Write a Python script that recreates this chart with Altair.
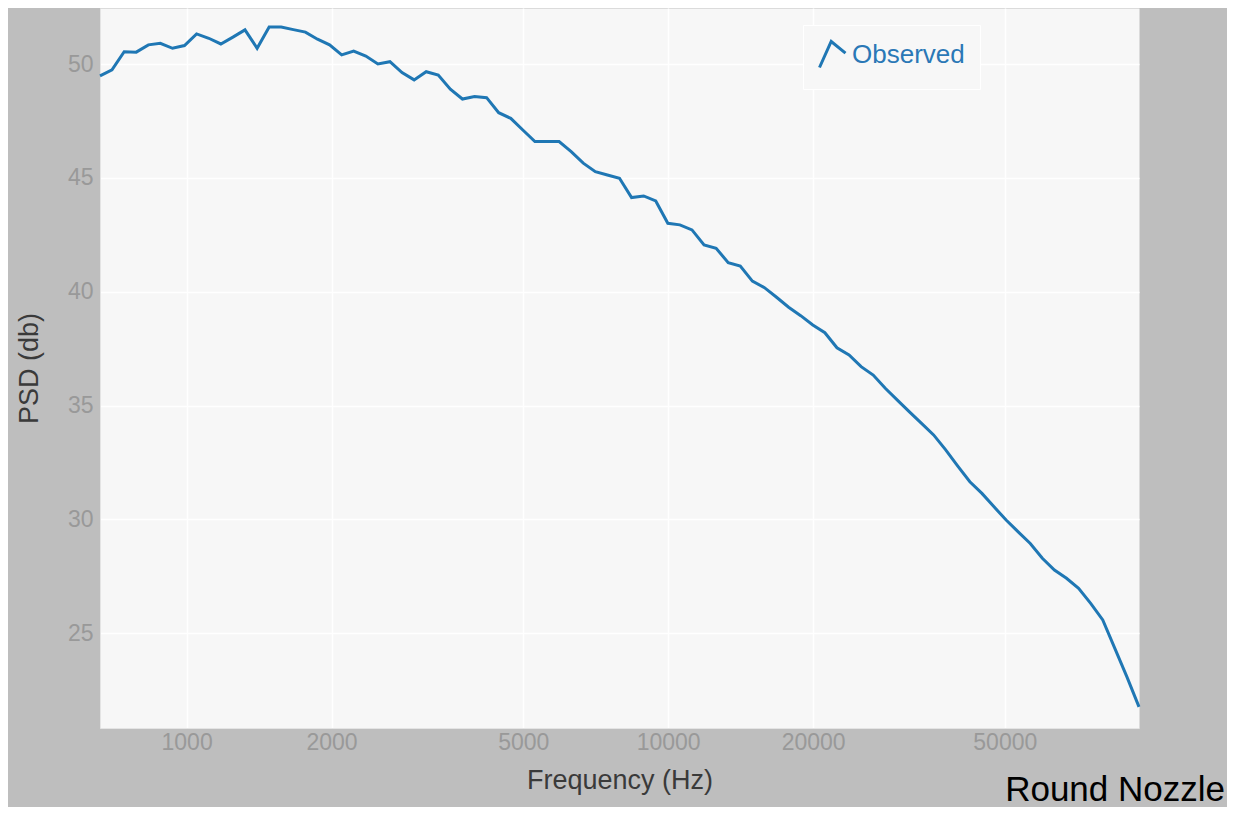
import altair as alt
import pandas as pd

# 1/12-octave band centre frequencies (Hz)
freq = [661, 700, 742, 786, 833, 882, 935, 990, 1049, 1112, 1178, 1248, 1322, 1401,
        1484, 1572, 1666, 1765, 1870, 1981, 2099, 2223, 2356, 2496, 2644, 2801, 2968,
        3144, 3331, 3529, 3739, 3962, 4197, 4447, 4711, 4991, 5288, 5602, 5936, 6289,
        6663, 7059, 7478, 7923, 8394, 8893, 9422, 9983, 10576, 11205, 11871, 12577,
        13325, 14117, 14957, 15846, 16788, 17787, 18844, 19965, 21152, 22410, 23743,
        25155, 26651, 28235, 29914, 31693, 33578, 35574, 37690, 39931, 42305, 44821,
        47486, 50310, 53302, 56471, 59829, 63387, 67156, 71149, 75380, 79863, 84612,
        89643, 94974]

# Observed PSD (db)
psd = [49.49, 49.75, 50.55, 50.53, 50.85, 50.92, 50.70, 50.82, 51.33, 51.14, 50.89,
       51.19, 51.51, 50.70, 51.63, 51.63, 51.52, 51.41, 51.10, 50.85, 50.41, 50.58,
       50.36, 50.01, 50.11, 49.63, 49.31, 49.67, 49.52, 48.90, 48.47, 48.58, 48.53,
       47.87, 47.62, 47.11, 46.60, 46.60, 46.60, 46.16, 45.65, 45.28, 45.13, 44.99,
       44.14, 44.21, 43.99, 43.01, 42.94, 42.72, 42.06, 41.91, 41.28, 41.13, 40.47,
       40.18, 39.76, 39.32, 38.95, 38.54, 38.20, 37.54, 37.22, 36.71, 36.34, 35.76,
       35.24, 34.72, 34.22, 33.71, 33.05, 32.34, 31.65, 31.14, 30.55, 29.97, 29.45,
       28.94, 28.29, 27.77, 27.41, 26.97, 26.31, 25.58, 24.33, 23.08, 21.76]

series_name = "Observed"
x_ticks = [1000, 2000, 5000, 10000, 20000, 50000]
y_ticks = [25, 30, 35, 40, 45, 50]
caption = "Round Nozzle"

FONT = "Liberation Sans"
BLUE = "#1f77b4"

df = pd.DataFrame({"freq": freq, "psd": psd, "series": [series_name] * len(freq)})

line = alt.Chart(df).mark_line(strokeWidth=3, color=BLUE).encode(
    x=alt.X("freq:Q",
            scale=alt.Scale(type="log", domain=[min(freq), max(freq)], nice=False),
            axis=alt.Axis(values=x_ticks, format="d", title="Frequency (Hz)",
                          labelPadding=3, titlePadding=13)),
    y=alt.Y("psd:Q",
            scale=alt.Scale(domain=[20.83, 52.47], nice=False, zero=False),
            axis=alt.Axis(values=y_ticks, title="PSD (db)",
                          labelPadding=7, titlePadding=24)),
    stroke=alt.Stroke("series:N",
                      scale=alt.Scale(domain=[series_name], range=[BLUE]),
                      legend=alt.Legend(title=None, orient="none",
                                        legendX=703, legendY=17,
                                        symbolType="M-1,1L-0.1,-1L1,-0.1",
                                        symbolSize=676, symbolStrokeWidth=3,
                                        symbolFillColor="transparent",
                                        labelFontSize=26, labelColor="#2a78b6",
                                        labelFont=FONT, labelOffset=5,
                                        padding=15, strokeColor="white",
                                        fillColor="#f7f7f7")),
)

label = alt.Chart(alt.Data(values=[{"t": caption}])).mark_text(
    align="right", baseline="alphabetic", fontSize=35, font=FONT, color="black"
).encode(
    x=alt.value(1125), y=alt.value(793), text="t:N"
)

chart = alt.layer(line, label).properties(
    width=1039, height=720,
    autosize=alt.AutoSizeParams(type="none"),
    padding={"left": 92, "top": 0, "right": 88, "bottom": 79},
    background="#bebebe",
).configure_view(
    fill="#f7f7f7", stroke="transparent"
).configure_axis(
    grid=True, gridColor="white", gridWidth=1.5,
    ticks=False, tickSize=0,
    domainColor="#e4e4e4", domainWidth=1,
    labelFont=FONT, labelFontSize=23, labelColor="#999999",
    titleFont=FONT, titleFontSize=27, titleColor="#3a3a3a", titleFontWeight="normal",
)

chart.save("out.html", embed_options={"renderer": "svg", "actions": False})
